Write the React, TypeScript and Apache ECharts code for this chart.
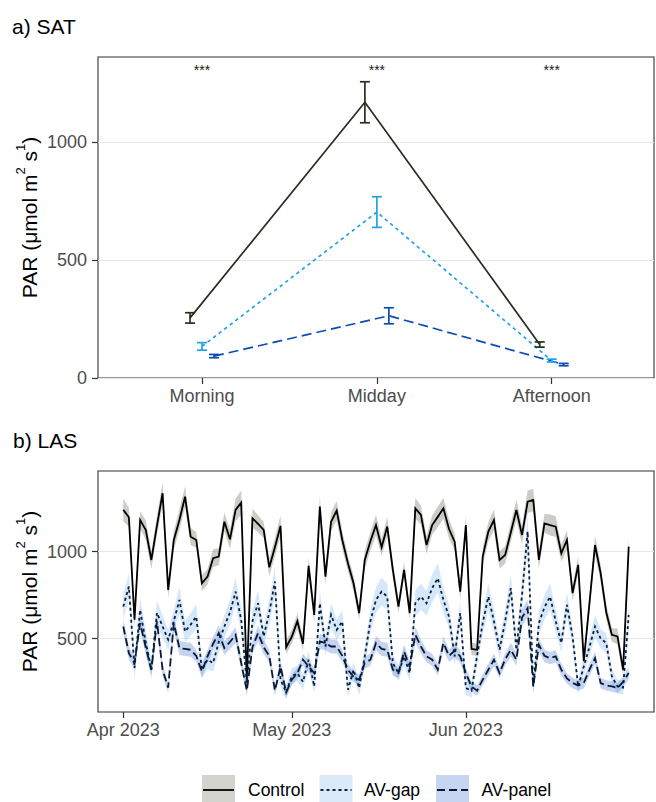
import React, { useEffect, useRef } from 'react';
import * as echarts from 'echarts';

const FONT = '"Liberation Sans", Arial, Helvetica, sans-serif';

// ---------- Panel a) SAT ----------
const satCategories = ['Morning', 'Midday', 'Afternoon'];
const satControlMean = [255, 1170, 142];
const satControlErr = [22, 87, 11];
const satGapMean = [134, 704, 74];
const satGapErr = [16, 65, 6];
const satPanelMean = [93, 264, 57];
const satPanelErr = [7, 34, 5];
const satSignif = ['***', '***', '***'];
const satSignifY = 1305;
const satYTicks = [0, 500, 1000];

// ---------- Panel b) LAS (daily, from 2023-04-01) ----------
const lasStart = '2023-04-01';
const lasControl = [
  1240, 1198, 608, 1182, 1125, 952, 1150, 1336, 780, 1067,
  1182, 1316, 1086, 1067, 818, 856, 962, 971, 1172, 1071,
  1240, 1282, 260, 1192, 1160, 1125, 910, 1025, 1148, 450,
  510, 600, 470, 918, 636, 1259, 856, 1172, 1236, 1067,
  933, 818, 646, 952, 1060, 1153, 1025, 1144, 895, 684,
  895, 646, 1249, 1211, 1038, 1153, 1200, 1249, 1130, 1057,
  770, 1153, 440, 435, 971, 1115, 1182, 952, 981, 1110,
  1240, 1096, 1287, 1297, 952, 1163, 1153, 1144, 991, 1067,
  761, 924, 370, 700, 1038, 876, 650, 521, 512, 320,
  1029,
];
const lasControlSe = [
  65, 55, 45, 50, 55, 50, 55, 60, 45, 55,
  60, 60, 50, 45, 45, 45, 50, 50, 55, 55,
  65, 70, 40, 55, 50, 45, 50, 55, 60, 40,
  40, 45, 40, 50, 45, 60, 50, 55, 55, 50,
  45, 45, 40, 50, 55, 60, 50, 55, 45, 40,
  45, 40, 60, 55, 50, 55, 60, 60, 55, 50,
  45, 55, 35, 35, 50, 55, 60, 50, 50, 55,
  60, 55, 65, 65, 50, 55, 60, 60, 50, 55,
  45, 50, 40, 45, 55, 50, 45, 40, 45, 35,
  55,
];
const lasGap = [
  684, 799, 330, 665, 480, 320, 648, 569, 493, 600,
  722, 540, 580, 626, 320, 378, 359, 480, 569, 650,
  770, 607, 240, 600, 703, 512, 650, 828, 263, 190,
  282, 300, 250, 378, 224, 703, 454, 636, 550, 598,
  205, 320, 215, 397, 600, 722, 770, 741, 359, 301,
  397, 300, 703, 741, 703, 790, 847, 722, 626, 397,
  646, 215, 200, 400, 588, 741, 600, 435, 600, 790,
  435, 750, 1115, 224, 588, 680, 741, 600, 474, 694,
  512, 224, 339, 450, 569, 500, 474, 282, 224, 217,
  636,
];
const lasGapSe = [
  70, 75, 60, 70, 65, 55, 70, 65, 60, 65,
  75, 60, 65, 70, 50, 55, 50, 60, 65, 70,
  80, 70, 50, 65, 75, 60, 70, 85, 45, 40,
  45, 45, 45, 50, 40, 75, 55, 70, 60, 65,
  40, 45, 40, 55, 65, 75, 80, 75, 50, 45,
  55, 45, 75, 75, 70, 80, 85, 75, 65, 55,
  70, 40, 40, 55, 65, 75, 65, 55, 65, 80,
  55, 75, 100, 40, 65, 70, 75, 65, 55, 70,
  60, 40, 50, 55, 65, 55, 55, 45, 40, 40,
  70,
];
const lasPanel = [
  569, 416, 359, 588, 450, 320, 598, 320, 217, 588,
  445, 440, 435, 400, 310, 397, 470, 531, 445, 480,
  521, 359, 200, 450, 531, 450, 400, 200, 339, 190,
  263, 300, 378, 340, 301, 483, 474, 454, 454, 400,
  320, 280, 263, 359, 378, 474, 440, 435, 320, 301,
  425, 339, 521, 454, 397, 378, 320, 474, 400, 430,
  397, 300, 224, 200, 263, 320, 378, 301, 380, 435,
  378, 620, 675, 224, 464, 400, 387, 397, 320, 270,
  244, 230, 244, 320, 387, 244, 230, 224, 215, 250,
  301,
];
const lasPanelSe = [
  45, 40, 35, 45, 40, 35, 45, 35, 30, 45,
  40, 40, 40, 35, 35, 35, 40, 45, 40, 40,
  45, 35, 30, 35, 45, 40, 35, 30, 35, 30,
  30, 30, 35, 35, 30, 45, 40, 40, 40, 35,
  35, 30, 30, 35, 35, 40, 40, 40, 35, 30,
  40, 35, 45, 40, 35, 35, 35, 40, 35, 40,
  35, 30, 30, 30, 30, 35, 35, 30, 35, 40,
  35, 50, 50, 30, 40, 35, 35, 35, 35, 30,
  30, 30, 30, 35, 35, 30, 30, 30, 30, 30,
  35,
];
const lasMonthTicks = ['2023-04-01', '2023-05-01', '2023-06-01'];
const lasYTicks = [500, 1000];
const monthNames = ['Jan', 'Feb', 'Mar', 'Apr', 'May', 'Jun', 'Jul', 'Aug', 'Sep', 'Oct', 'Nov', 'Dec'];

const legendLabels = ['Control', 'AV-gap', 'AV-panel'];

// ---------- styling ----------
const satColors = ['#283020', '#22a2e6', '#0a4db6'];
const satDash: any[] = ['solid', [3.5, 3.5], [10, 5]];
const satDodge = [-0.0685, 0, 0.0685];
const lasLineColors = ['#000000', '#0d203c', '#0a1a34'];
const lasDash: any[] = ['solid', [3, 3], [8, 4]];
const lasBandColors = ['rgba(143,146,128,0.45)', 'rgba(150,198,243,0.40)', 'rgba(93,138,216,0.36)'];
const legendFills = ['#d3d4cd', '#dbeaf9', '#c6d6f0'];

const DAY = 86400000;
const toTs = (s: string) => Date.parse(s + 'T00:00:00Z');

export default function App() {
  const ref = useRef<HTMLDivElement>(null);

  useEffect(() => {
    if (!ref.current) return;
    const chart = echarts.init(ref.current, undefined, { renderer: 'svg' });

    const t0 = toTs(lasStart);
    const lasDates = lasControl.map((_, i) => t0 + i * DAY);
    const span = lasDates[lasDates.length - 1] - lasDates[0];
    const xMinB = lasDates[0] - span * 0.05;
    const xMaxB = lasDates[lasDates.length - 1] + span * 0.05;
    const monthTs = lasMonthTicks.map(toTs);

    const satMeans = [satControlMean, satGapMean, satPanelMean];
    const satErrs = [satControlErr, satGapErr, satPanelErr];

    const series: any[] = [];

    // panel a lines + error bars
    satMeans.forEach((means, k) => {
      series.push({
        type: 'line',
        xAxisIndex: 0,
        yAxisIndex: 0,
        data: means.map((m, i) => [i + 1 + satDodge[k], m]),
        symbol: 'none',
        lineStyle: { color: satColors[k], width: 1.7, type: satDash[k], cap: 'butt' },
        z: 3,
        silent: true,
      });
      series.push({
        type: 'custom',
        xAxisIndex: 0,
        yAxisIndex: 0,
        silent: true,
        z: 4,
        data: means.map((m, i) => [i + 1 + satDodge[k], m - satErrs[k][i], m + satErrs[k][i]]),
        encode: { x: 0, y: [1, 2] },
        renderItem: (params: any, api: any) => {
          const x = api.value(0);
          const p1 = api.coord([x, api.value(1)]);
          const p2 = api.coord([x, api.value(2)]);
          const w = 5;
          const st = { stroke: satColors[k], lineWidth: 1.7 };
          return {
            type: 'group',
            children: [
              { type: 'line', shape: { x1: p1[0], y1: p1[1], x2: p2[0], y2: p2[1] }, style: st },
              { type: 'line', shape: { x1: p1[0] - w, y1: p1[1], x2: p1[0] + w, y2: p1[1] }, style: st },
              { type: 'line', shape: { x1: p2[0] - w, y1: p2[1], x2: p2[0] + w, y2: p2[1] }, style: st },
            ],
          };
        },
      });
    });

    // significance labels
    series.push({
      type: 'custom',
      xAxisIndex: 0,
      yAxisIndex: 0,
      silent: true,
      z: 5,
      data: satSignif.map((s, i) => [i + 1, satSignifY]),
      encode: { x: 0, y: 1 },
      renderItem: (params: any, api: any) => {
        const p = api.coord([api.value(0), api.value(1)]);
        return {
          type: 'text',
          x: p[0],
          y: p[1],
          style: {
            text: satSignif[params.dataIndex],
            fill: '#1a1a1a',
            fontSize: 14,
            fontFamily: FONT,
            align: 'center',
            verticalAlign: 'middle',
          },
        };
      },
    });

    // panel b bands
    const lasMeans = [lasControl, lasGap, lasPanel];
    const lasSes = [lasControlSe, lasGapSe, lasPanelSe];
    lasMeans.forEach((vals, k) => {
      const data = vals.map((v, i) => [lasDates[i], v - lasSes[k][i], v + lasSes[k][i]]);
      series.push({
        type: 'custom',
        xAxisIndex: 1,
        yAxisIndex: 1,
        silent: true,
        z: 1,
        data,
        encode: { x: 0, y: [1, 2] },
        renderItem: (params: any, api: any) => {
          if (params.dataIndex !== 0) return null;
          const upper = data.map((d) => api.coord([d[0], d[2]]));
          const lower = data.map((d) => api.coord([d[0], d[1]])).reverse();
          return {
            type: 'polygon',
            shape: { points: upper.concat(lower) },
            style: { fill: lasBandColors[k] },
          };
        },
      });
    });
    lasMeans.forEach((vals, k) => {
      series.push({
        type: 'line',
        xAxisIndex: 1,
        yAxisIndex: 1,
        data: vals.map((v, i) => [lasDates[i], v]),
        symbol: 'none',
        silent: true,
        z: 3,
        lineStyle: { color: lasLineColors[k], width: 1.8, type: lasDash[k], cap: 'butt', join: 'miter' },
      });
    });

    const axisLabelStyle = { color: '#4d4d4d', fontSize: 18, fontFamily: FONT };
    const tickStyle = { color: '#333333', width: 1.2 };
    const gridLine = { show: true, lineStyle: { color: '#e6e6e6', width: 1.2 } };
    const plainNum = (v: number) => String(v);

    // y-axis titles (rich text with superscripts)
    const yTitleRich = {
      n: { fontSize: 21, fontFamily: FONT, fill: '#000', lineHeight: 26, verticalAlign: 'bottom' },
      s: { fontSize: 13, fontFamily: FONT, fill: '#000', lineHeight: 16, verticalAlign: 'top' },
    };
    const yTitle = (cy: number) => ({
      type: 'text',
      x: 27,
      y: cy,
      rotation: Math.PI / 2,
      style: {
        text: '{n|PAR (μmol m}{s|2}{n| s}{s|1}{n|)}',
        rich: yTitleRich,
        align: 'center',
        verticalAlign: 'middle',
        textAlign: 'center',
        textVerticalAlign: 'middle',
      },
    });

    const legendBoxX = [202, 319.5, 436];
    const legendTextX = [248, 364, 481.5];
    const legendY = 790;
    const legendGraphics: any[] = [];
    legendLabels.forEach((lab, k) => {
      legendGraphics.push({
        type: 'rect',
        shape: { x: legendBoxX[k], y: 775, width: 33, height: 30 },
        style: { fill: legendFills[k] },
      });
      legendGraphics.push({
        type: 'line',
        shape: { x1: legendBoxX[k] + 1, y1: legendY, x2: legendBoxX[k] + 32, y2: legendY },
        style: { stroke: lasLineColors[k], lineWidth: 1.8, lineDash: k === 0 ? null : lasDash[k] },
      });
      legendGraphics.push({
        type: 'text',
        x: legendTextX[k],
        y: legendY,
        style: {
          text: lab,
          fill: '#000',
          fontSize: 17.5,
          fontFamily: FONT,
          align: 'left',
          verticalAlign: 'middle',
          textAlign: 'left',
          textVerticalAlign: 'middle',
        },
      });
    });

    const option: any = {
      animation: false,
      backgroundColor: '#ffffff',
      textStyle: { fontFamily: FONT },
      grid: [
        { left: 98, top: 57, width: 556, height: 321, show: true, borderColor: '#333333', borderWidth: 1.1, backgroundColor: 'transparent' },
        { left: 98, top: 471, width: 556, height: 241, show: true, borderColor: '#333333', borderWidth: 1.1, backgroundColor: 'transparent' },
      ],
      xAxis: [
        {
          type: 'value',
          gridIndex: 0,
          min: 0.405,
          max: 3.585,
          axisLine: { show: false },
          axisTick: { show: true, length: 6, lineStyle: tickStyle, customValues: [1, 2, 3] },
          axisLabel: {
            ...axisLabelStyle,
            margin: 9,
            customValues: [1, 2, 3],
            formatter: (v: number) => satCategories[Math.round(v) - 1] ?? '',
          },
          splitLine: { show: false },
        },
        {
          type: 'value',
          gridIndex: 1,
          min: xMinB,
          max: xMaxB,
          axisLine: { show: false },
          axisTick: { show: true, length: 6, lineStyle: tickStyle, customValues: monthTs },
          axisLabel: {
            ...axisLabelStyle,
            margin: 9,
            customValues: monthTs,
            formatter: (v: number) => {
              const d = new Date(v);
              return monthNames[d.getUTCMonth()] + ' ' + d.getUTCFullYear();
            },
          },
          splitLine: { show: false },
        },
      ],
      yAxis: [
        {
          type: 'value',
          gridIndex: 0,
          min: 0,
          max: 1362,
          axisLine: { show: false },
          axisTick: { show: true, length: 6, lineStyle: tickStyle, customValues: satYTicks },
          axisLabel: { ...axisLabelStyle, margin: 11, customValues: satYTicks, formatter: plainNum },
          splitLine: gridLine,
        },
        {
          type: 'value',
          gridIndex: 1,
          min: 77,
          max: 1464,
          axisLine: { show: false },
          axisTick: { show: true, length: 6, lineStyle: tickStyle, customValues: lasYTicks },
          axisLabel: { ...axisLabelStyle, margin: 11, customValues: lasYTicks, formatter: plainNum },
          splitLine: gridLine,
        },
      ],
      series,
      graphic: [
        {
          type: 'text',
          x: 12,
          y: 26,
          style: { text: 'a) SAT', fill: '#000', fontSize: 21, fontFamily: FONT, verticalAlign: 'middle', textVerticalAlign: 'middle' },
        },
        {
          type: 'text',
          x: 13,
          y: 440,
          style: { text: 'b) LAS', fill: '#000', fontSize: 21, fontFamily: FONT, verticalAlign: 'middle', textVerticalAlign: 'middle' },
        },
        yTitle(217.5),
        yTitle(591.5),
        ...legendGraphics,
      ],
    };

    chart.setOption(option);
    return () => chart.dispose();
  }, []);

  return (
    <div
      ref={ref}
      style={{ position: 'fixed', left: 0, top: 0, width: 656, height: 802, background: '#fff' }}
    />
  );
}
